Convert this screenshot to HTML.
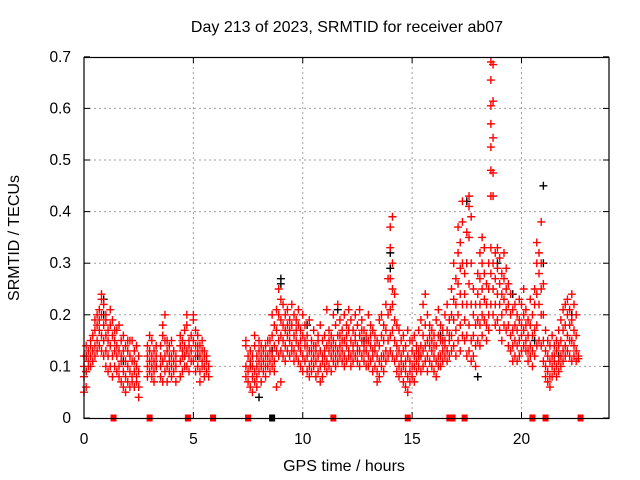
<!DOCTYPE html>
<html><head><meta charset="utf-8"><style>
body{margin:0;background:#fff;}
svg{display:block;font-family:"Liberation Sans",sans-serif;}
</style></head><body>
<svg id="chart" width="640" height="480">
<text x="347" y="32" font-size="16" text-anchor="middle">Day 213 of 2023, SRMTID for receiver ab07</text>
<text x="344" y="471" font-size="16" text-anchor="middle">GPS time / hours</text>
<text transform="translate(19,238) rotate(-90)" font-size="16" text-anchor="middle">SRMTID / TECUs</text>
<g id="grid"></g>
<g id="ticks"></g>
<g id="black"></g>
<g id="red"></g>
<rect x="84" y="57.5" width="525" height="361" fill="none" stroke="#000" stroke-width="1.2"/>
</svg>
<script>
const xTicks=[0,5,10,15,20];
const yTicks=[0,0.1,0.2,0.3,0.4,0.5,0.6,0.7];
const yTickLabels=["0","0.1","0.2","0.3","0.4","0.5","0.6","0.7"];
// red series: [time, values...]
const redCols=[
[0.0,0.05,0.1,0.08,0.12],[0.1,0.09,0.12,0.14,0.06],[0.2,0.1,0.13,0.11],[0.3,0.12,0.15,0.1,0.14],[0.4,0.11,0.13,0.16],
[0.5,0.12,0.19,0.14,0.17],[0.6,0.15,0.2,0.18,0.13],[0.7,0.17,0.21,0.19,0.14],[0.8,0.24,0.23,0.2,0.16,0.13],[0.9,0.22,0.18,0.12,0.15],
[1.0,0.19,0.16,0.1,0.13,0.2],[1.1,0.17,0.12,0.09,0.15],[1.2,0.21,0.14,0.1,0.18],[1.3,0.16,0.12,0.08,0.19],[1.4,0.13,0.1,0.17,0.15],
[1.5,0.12,0.09,0.17,0.14],[1.6,0.18,0.1,0.13,0.08],[1.7,0.15,0.07,0.12,0.11],[1.8,0.16,0.09,0.13,0.06],[1.9,0.14,0.08,0.11,0.05],
[2.0,0.15,0.07,0.1,0.13],[2.1,0.12,0.06,0.09,0.15],[2.2,0.15,0.08,0.11,0.07],[2.3,0.13,0.09,0.06,0.11],[2.4,0.1,0.08,0.14,0.07],
[2.5,0.12,0.09,0.06,0.04],
[2.9,0.1,0.12,0.14,0.08],[3.0,0.16,0.11,0.09,0.13],[3.1,0.12,0.08,0.1,0.15],[3.2,0.13,0.11,0.07,0.09],[3.3,0.12,0.1,0.14],
[3.5,0.14,0.1,0.08,0.12],[3.6,0.18,0.16,0.11,0.07],[3.7,0.2,0.15,0.12,0.09],[3.8,0.13,0.1,0.07,0.15],[3.9,0.14,0.11,0.09,0.12],
[4.0,0.12,0.1,0.08,0.15],[4.1,0.13,0.09,0.11],[4.2,0.07,0.1,0.12],[4.4,0.14,0.11,0.08,0.16],[4.5,0.15,0.12,0.09,0.13],
[4.6,0.17,0.14,0.1,0.12],[4.7,0.2,0.18,0.13,0.1],[4.8,0.15,0.12,0.09,0.14],[4.9,0.16,0.11,0.13],
[5.0,0.2,0.19,0.15,0.11],[5.1,0.17,0.12,0.14,0.09],[5.2,0.16,0.13,0.1,0.14],[5.3,0.14,0.12,0.09,0.07],[5.4,0.13,0.11,0.15,0.1],
[5.5,0.12,0.1,0.08,0.13],[5.6,0.11,0.09,0.12],[5.7,0.1,0.08],
[7.4,0.1,0.08,0.14,0.15],[7.5,0.09,0.07,0.12],[7.6,0.1,0.06,0.11,0.13],[7.7,0.08,0.05,0.12,0.1],[7.8,0.14,0.09,0.07,0.16],
[7.9,0.12,0.1,0.08,0.06],[8.0,0.13,0.09,0.11,0.15],[8.1,0.12,0.1,0.07,0.14],[8.2,0.11,0.09,0.13],[8.3,0.14,0.1,0.08,0.12],
[8.4,0.15,0.12,0.1],[8.5,0.13,0.11,0.09,0.15],[8.6,0.2,0.16,0.12,0.1],[8.7,0.18,0.14,0.11,0.09],[8.8,0.21,0.17,0.13,0.06],
[8.9,0.25,0.2,0.15,0.12],[9.0,0.23,0.19,0.16,0.13,0.07],[9.1,0.22,0.18,0.15,0.12],[9.2,0.2,0.17,0.14,0.11],[9.3,0.21,0.16,0.13,0.18],
[9.4,0.19,0.15,0.12,0.17],[9.5,0.22,0.18,0.14,0.13],[9.6,0.2,0.16,0.13,0.11],[9.7,0.19,0.15,0.12,0.17],[9.8,0.21,0.18,0.14,0.11],
[9.9,0.17,0.13,0.15,0.1],[10.0,0.2,0.16,0.12,0.09],[10.1,0.18,0.14,0.11,0.15],[10.2,0.16,0.12,0.09,0.14],[10.3,0.19,0.13,0.1,0.08],
[10.4,0.15,0.11,0.13,0.09],[10.5,0.17,0.12,0.1,0.14],[10.6,0.14,0.11,0.08,0.13],[10.7,0.16,0.12,0.09,0.15],[10.8,0.18,0.13,0.1,0.07],
[10.9,0.15,0.11,0.12,0.08],[11.0,0.16,0.13,0.1,0.12],[11.1,0.21,0.14,0.11,0.09],[11.2,0.17,0.13,0.1,0.15],[11.3,0.14,0.12,0.09,0.16],
[11.4,0.2,0.15,0.11,0.13],[11.5,0.18,0.14,0.12,0.1],[11.6,0.22,0.16,0.13,0.11],[11.7,0.19,0.14,0.12,0.16],[11.8,0.17,0.13,0.11,0.15],
[11.9,0.2,0.15,0.12,0.1],[12.0,0.18,0.14,0.11,0.16],[12.1,0.21,0.17,0.13,0.12],[12.2,0.19,0.15,0.12,0.1],[12.3,0.17,0.14,0.11,0.13],
[12.4,0.2,0.16,0.12,0.15],[12.5,0.18,0.14,0.11,0.13],[12.6,0.21,0.16,0.13,0.1],[12.7,0.19,0.15,0.12,0.17],[12.8,0.17,0.14,0.11,0.13],
[12.9,0.16,0.13,0.1,0.15],[13.0,0.2,0.15,0.12,0.1],[13.1,0.18,0.14,0.11,0.16],[13.2,0.17,0.13,0.12,0.09],[13.3,0.16,0.13,0.1,0.14],
[13.4,0.15,0.12,0.09,0.07],[13.5,0.19,0.14,0.11,0.08],[13.6,0.2,0.16,0.12,0.1],[13.7,0.18,0.15,0.12,0.09],[13.8,0.22,0.17,0.13,0.11],
[13.9,0.27,0.2,0.15,0.12],[14.0,0.37,0.33,0.27,0.21,0.16,0.13],[14.1,0.39,0.3,0.25,0.22,0.17,0.12],[14.2,0.24,0.19,0.15,0.11],[14.3,0.18,0.14,0.12,0.09],
[14.4,0.17,0.13,0.1,0.08],[14.5,0.15,0.12,0.09,0.11],[14.6,0.16,0.13,0.1,0.07],[14.7,0.14,0.11,0.09,0.06],[14.8,0.17,0.12,0.08,0.05],
[14.9,0.15,0.11,0.09,0.07],[15.0,0.13,0.1,0.08,0.15],[15.1,0.16,0.12,0.1,0.07],[15.2,0.14,0.11,0.09,0.13],[15.3,0.17,0.13,0.1,0.12],
[15.4,0.19,0.14,0.12,0.09],[15.5,0.22,0.16,0.13,0.1],[15.6,0.24,0.18,0.14,0.11],[15.7,0.2,0.15,0.12,0.09],[15.8,0.18,0.14,0.11,0.16],
[15.9,0.17,0.13,0.1,0.15],[16.0,0.16,0.12,0.09,0.14],[16.1,0.19,0.14,0.11,0.08],[16.2,0.21,0.16,0.12,0.1],[16.3,0.18,0.15,0.12,0.1],
[16.4,0.17,0.13,0.11,0.15],[16.5,0.2,0.15,0.12,0.14],[16.6,0.22,0.17,0.13,0.11],[16.7,0.19,0.15,0.12,0.16],[16.8,0.25,0.2,0.16,0.13],
[16.9,0.3,0.23,0.19,0.14],[17.0,0.27,0.22,0.17,0.12],[17.1,0.37,0.32,0.26,0.2,0.15],[17.2,0.34,0.29,0.24,0.18,0.13],[17.3,0.42,0.38,0.3,0.22,0.16],
[17.4,0.28,0.24,0.19,0.15],[17.5,0.36,0.3,0.22,0.16,0.12],[17.6,0.43,0.41,0.35,0.26,0.18,0.13],[17.7,0.39,0.3,0.22,0.15,0.11],[17.8,0.25,0.2,0.16,0.12],
[17.9,0.22,0.18,0.14,0.1],[18.0,0.28,0.24,0.19,0.15],[18.1,0.32,0.27,0.22,0.18,0.14],[18.2,0.35,0.3,0.25,0.2,0.16],[18.3,0.33,0.28,0.23,0.19],
[18.4,0.26,0.22,0.18,0.15],[18.5,0.3,0.25,0.2,0.17],[18.6,0.69,0.655,0.605,0.57,0.525,0.48,0.43,0.33,0.28,0.22],[18.7,0.685,0.614,0.543,0.475,0.43,0.3,0.25,0.2],[18.8,0.32,0.27,0.22,0.18],
[18.9,0.33,0.29,0.24,0.19],[19.0,0.31,0.26,0.22,0.17],[19.1,0.28,0.24,0.2,0.15],[19.2,0.32,0.27,0.23,0.18],[19.3,0.29,0.25,0.21,0.17],
[19.4,0.26,0.22,0.18,0.14],[19.5,0.24,0.2,0.16,0.13],[19.6,0.21,0.17,0.14,0.11],[19.7,0.22,0.18,0.15,0.12],[19.8,0.2,0.17,0.14,0.11],
[19.9,0.23,0.19,0.15,0.12],[20.0,0.22,0.18,0.16,0.13],[20.1,0.25,0.2,0.17,0.14],[20.2,0.21,0.18,0.15,0.13],[20.3,0.19,0.16,0.13,0.11],
[20.4,0.23,0.18,0.14,0.12],[20.5,0.2,0.16,0.13,0.1],[20.6,0.25,0.22,0.17,0.12],[20.7,0.34,0.3,0.24,0.18,0.14],[20.8,0.32,0.28,0.22,0.15],
[20.9,0.38,0.3,0.25,0.2,0.14],[21.0,0.26,0.2,0.15,0.11],[21.1,0.17,0.13,0.1,0.08],[21.2,0.15,0.12,0.09,0.07],[21.3,0.14,0.11,0.08,0.06],
[21.4,0.16,0.12,0.1,0.08],[21.5,0.14,0.11,0.09,0.12],[21.6,0.15,0.13,0.1,0.08],[21.7,0.17,0.14,0.11,0.09],[21.8,0.19,0.15,0.12,0.1],
[21.9,0.21,0.17,0.13,0.11],[22.0,0.22,0.18,0.14,0.12],[22.1,0.23,0.2,0.16,0.13],[22.2,0.21,0.18,0.15,0.12],[22.3,0.24,0.19,0.15,0.11],
[22.4,0.22,0.17,0.14,0.12],[22.5,0.2,0.16,0.13,0.11],[22.6,0.12,0.115]
];
const redZero=[1.35,3.0,4.75,5.9,7.5,11.4,14.8,16.7,16.85,17.4,20.5,21.1,22.7];
const blackCols=[
[0.1,0.09,0.12],[0.9,0.23,0.2],[1.8,0.11],[3.3,0.1],[4.6,0.12],[5.2,0.12],[7.6,0.1],[8.0,0.04],[8.6,0.13],[9.0,0.27,0.26],
[10.2,0.18],[11.6,0.21],[12.8,0.15],[14.0,0.32,0.29],[15.3,0.12],[16.3,0.16],[17.5,0.42,0.3],[18.0,0.08],[18.9,0.3],[19.6,0.24],
[20.6,0.15],[21.0,0.45,0.3],[21.7,0.12],[22.3,0.2]
];
const blackZero=[8.6];
const X=t=>84+t*525/24;
const Y=v=>418-v*516;
const NS="http://www.w3.org/2000/svg";
const grid=document.getElementById('grid'),ticks=document.getElementById('ticks');
xTicks.forEach(t=>{
  if(t>0){const l=document.createElementNS(NS,'line');
  l.setAttribute('x1',X(t));l.setAttribute('x2',X(t));l.setAttribute('y1',57);l.setAttribute('y2',418);
  l.setAttribute('stroke','#a0a0a0');l.setAttribute('stroke-dasharray','2,3');
  
  
  grid.appendChild(l);}
  const tx=document.createElementNS(NS,'text');
  tx.setAttribute('x',X(t));tx.setAttribute('y',444);tx.setAttribute('font-size','15.5');tx.setAttribute('text-anchor','middle');
  tx.textContent=t;
  
  
  ticks.appendChild(tx);
  [[418,412],[57,63]].forEach(p=>{const m=document.createElementNS(NS,'line');
  m.setAttribute('x1',X(t));m.setAttribute('x2',X(t));m.setAttribute('y1',p[0]);m.setAttribute('y2',p[1]);m.setAttribute('stroke','#000');
  
  
  ticks.appendChild(m);});
});
yTicks.forEach((v,i)=>{
  if(v>0&&v<0.7){const l=document.createElementNS(NS,'line');
  l.setAttribute('x1',84);l.setAttribute('x2',609);l.setAttribute('y1',Y(v));l.setAttribute('y2',Y(v));
  l.setAttribute('stroke','#a0a0a0');l.setAttribute('stroke-dasharray','2,3');
  
  
  grid.appendChild(l);}
  const tx=document.createElementNS(NS,'text');
  tx.setAttribute('x',71);tx.setAttribute('y',Y(v)+5);tx.setAttribute('font-size','15.5');tx.setAttribute('text-anchor','end');
  tx.textContent=yTickLabels[i];
  
  
  ticks.appendChild(tx);
  [[84,90],[609,603]].forEach(p=>{const m=document.createElementNS(NS,'line');
  m.setAttribute('x1',p[0]);m.setAttribute('x2',p[1]);m.setAttribute('y1',Y(v));m.setAttribute('y2',Y(v));m.setAttribute('stroke','#000');
  
  
  ticks.appendChild(m);});
});
function draw(cols,zeros,gid,color,name){
  let d='';
  cols.forEach(c=>{for(let i=1;i<c.length;i++){const x=X(c[0]),y=Y(c[i]);d+=`M${x-4},${y}h8M${x},${y-4}v8`;}});
  const p=document.createElementNS(NS,'path');
  p.setAttribute('d',d);p.setAttribute('stroke',color);p.setAttribute('stroke-width','1.4');p.setAttribute('fill','none');
  
  
  document.getElementById(gid).appendChild(p);
  zeros.forEach(t=>{
    const r=document.createElementNS(NS,'rect');
    r.setAttribute('x',X(t)-3);r.setAttribute('y',Y(0)-3.5);r.setAttribute('width',6);r.setAttribute('height',7);
    r.setAttribute('fill',color);
    
    
    document.getElementById(gid).appendChild(r);
  });
}
draw(blackCols,blackZero,'black','#000','black-points');
draw(redCols,redZero,'red','#f00','red-points');
</script>
</body></html>
